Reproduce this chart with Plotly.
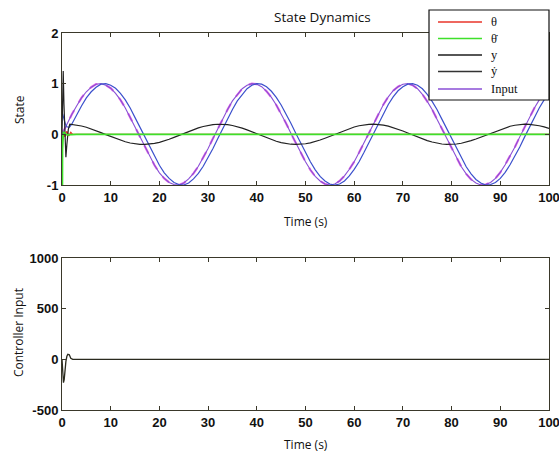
import plotly.graph_objects as go
from plotly.subplots import make_subplots

# ---------------- data ----------------
# 1-second grid for the reference input
t_input = list(range(0, 101))
u_input = [0.00, 0.20, 0.39, 0.56, 0.72, 0.84, 0.93, 0.99, 1.00, 0.97,
           0.91, 0.81, 0.68, 0.52, 0.33, 0.14, -0.06, -0.26, -0.44, -0.61,
           -0.76, -0.87, -0.95, -0.99, -1.00, -0.96, -0.88, -0.77, -0.63, -0.46,
           -0.28, -0.08, 0.12, 0.31, 0.49, 0.66, 0.79, 0.90, 0.97, 1.00,
           0.99, 0.94, 0.85, 0.73, 0.58, 0.41, 0.22, 0.02, -0.17, -0.37,
           -0.54, -0.70, -0.83, -0.92, -0.98, -1.00, -0.98, -0.92, -0.82, -0.69,
           -0.54, -0.36, -0.17, 0.03, 0.23, 0.42, 0.59, 0.74, 0.86, 0.94,
           0.99, 1.00, 0.97, 0.90, 0.79, 0.65, 0.49, 0.30, 0.11, -0.09,
           -0.29, -0.47, -0.64, -0.78, -0.89, -0.96, -1.00, -0.99, -0.95, -0.87,
           -0.75, -0.60, -0.43, -0.25, -0.05, 0.15, 0.34, 0.52, 0.68, 0.81,
           0.91]

# cart position y
t_y = [0, 0.2, 0.4, 0.7, 1.0, 1.5] + list(range(2, 101))
y_pos = [0.45, 0.38, 0.28, 0.20, 0.15, 0.14,
         0.20, 0.39, 0.56, 0.72, 0.84, 0.93, 0.99, 1.00, 0.97,
         0.91, 0.81, 0.68, 0.52, 0.33, 0.14, -0.06, -0.26, -0.44, -0.61,
         -0.76, -0.87, -0.95, -0.99, -1.00, -0.96, -0.88, -0.77, -0.63, -0.46,
         -0.28, -0.08, 0.12, 0.31, 0.49, 0.66, 0.79, 0.90, 0.97, 1.00,
         0.99, 0.94, 0.85, 0.73, 0.58, 0.41, 0.22, 0.02, -0.17, -0.37,
         -0.54, -0.70, -0.83, -0.92, -0.98, -1.00, -0.98, -0.92, -0.82, -0.69,
         -0.54, -0.36, -0.17, 0.03, 0.23, 0.42, 0.59, 0.74, 0.86, 0.94,
         0.99, 1.00, 0.97, 0.90, 0.79, 0.65, 0.49, 0.30, 0.11, -0.09,
         -0.29, -0.47, -0.64, -0.78, -0.89, -0.96, -1.00, -0.99, -0.95, -0.87,
         -0.75, -0.60, -0.43, -0.25, -0.05, 0.15, 0.34, 0.52, 0.68, 0.81]

# cart velocity y-dot
t_ydot = [0, 0.1, 0.25, 0.4, 0.6, 0.8, 1.0, 1.3, 1.6] + list(range(2, 101))
y_dot = [0.00, 0.60, 1.25, 0.60, -0.20, -0.45, -0.20, 0.10, 0.20,
         0.196, 0.184, 0.165, 0.139, 0.108, 0.072, 0.034, -0.006, -0.045,
         -0.083, -0.118, -0.147, -0.171, -0.188, -0.198, -0.200, -0.193, -0.179, -0.158,
         -0.131, -0.098, -0.061, -0.022, 0.017, 0.057, 0.094, 0.127, 0.155, 0.177,
         0.192, 0.199, 0.199, 0.190, 0.174, 0.151, 0.122, 0.088, 0.050, 0.011,
         -0.029, -0.068, -0.104, -0.136, -0.162, -0.182, -0.195, -0.200, -0.197, -0.186,
         -0.168, -0.143, -0.112, -0.077, -0.039, 0.001, 0.041, 0.079, 0.114, 0.144,
         0.169, 0.187, 0.197, 0.200, 0.195, 0.181, 0.161, 0.134, 0.102, 0.066,
         0.027, -0.013, -0.052, -0.089, -0.123, -0.152, -0.175, -0.191, -0.199, -0.199,
         -0.191, -0.176, -0.154, -0.125, -0.092, -0.055, -0.016, 0.024, 0.063, 0.099,
         0.132, 0.159, 0.180, 0.194, 0.200, 0.198, 0.188, 0.170, 0.146, 0.116]

# pendulum angle theta
t_theta = [0, 0.3, 0.6, 1.0, 1.4, 1.8, 2.2, 3.0, 100]
theta = [0.00, 0.08, -0.05, 0.06, -0.03, 0.04, 0.00, 0.00, 0.00]

# pendulum angular rate theta-dot
t_theta_dot = [0, 0.05, 0.12, 0.3, 1.0, 3.0, 100]
theta_dot = [0.00, -3.00, -0.30, 0.05, -0.01, 0.00, 0.00]

# controller effort
t_ctrl = [0, 0.15, 0.3, 0.45, 0.6, 0.8, 1.0, 1.2, 1.5, 1.8, 2.2, 3.0, 100]
u_ctrl = [0, -120, -230, -200, -100, -20, 30, 50, 45, 10, 0, 0, 0]

# axis tick labels
state_ticks = [-1, 0, 1, 2]
state_tick_text = ["-1", "0", "1", "2"]
ctrl_ticks = [-500, 0, 500, 1000]
ctrl_tick_text = ["-500", "0", "500", "1000"]

legend_names = ["\u03b8", "\u03b8\u0307", "y", "\u1e8f", "Input"]
legend_colors = ["#e8352a", "#3ee02a", "#1e1e1e", "#333333", "#8a4fd6"]

# ---------------- figure ----------------
fig = make_subplots(rows=2, cols=1, vertical_spacing=0.1936)

fig.add_trace(go.Scatter(x=t_theta, y=theta, mode="lines",
                         line=dict(color="#e8352a", width=1.2)), 1, 1)
fig.add_trace(go.Scatter(x=t_input, y=u_input, mode="lines",
                         line=dict(color="#e66ee6", width=2.2, dash="dash")), 1, 1)
fig.add_trace(go.Scatter(x=t_input, y=u_input, mode="lines",
                         line=dict(color="#8a4fd6", width=1.1)), 1, 1)
fig.add_trace(go.Scatter(x=t_y, y=y_pos, mode="lines",
                         line=dict(color="#3b50cc", width=1.2)), 1, 1)
fig.add_trace(go.Scatter(x=t_ydot, y=y_dot, mode="lines",
                         line=dict(color="#222222", width=1.2)), 1, 1)
fig.add_trace(go.Scatter(x=t_theta_dot, y=theta_dot, mode="lines",
                         line=dict(color="#3ee02a", width=1.6)), 1, 1)
fig.add_trace(go.Scatter(x=t_ctrl, y=u_ctrl, mode="lines",
                         line=dict(color="#2a2a1e", width=1.3)), 2, 1)

frame = "#3a382a"
tickfont = dict(family="Liberation Sans", size=13, color="#111111", weight="bold")
common_x = dict(range=[0, 100], dtick=10, tick0=0, ticks="inside", ticklen=4,
                tickcolor=frame, showline=True, linecolor=frame, linewidth=1,
                mirror="ticks", showgrid=False, zeroline=False, tickfont=tickfont,
                ticklabeloverflow="allow", automargin=False)
common_y = dict(ticks="inside", ticklen=4, tickcolor=frame, showline=True,
                linecolor=frame, linewidth=1, mirror="ticks", showgrid=False,
                zeroline=False, tickfont=tickfont, ticklabeloverflow="allow",
                automargin=False, tickmode="array")

fig.update_xaxes(**common_x, row=1, col=1)
fig.update_xaxes(**common_x, row=2, col=1)
fig.update_yaxes(range=[-1, 2], tickvals=state_ticks, ticktext=state_tick_text,
                 **common_y, row=1, col=1)
fig.update_yaxes(range=[-500, 1000], tickvals=ctrl_ticks, ticktext=ctrl_tick_text,
                 **common_y, row=2, col=1)

label_font = dict(family="Open Sans", size=12, color="#111111")


def note(text, x, y, font, angle=0, xanchor="center"):
    fig.add_annotation(text=text, x=x, y=y, xref="paper", yref="paper",
                       xanchor=xanchor, yanchor="middle", showarrow=False,
                       textangle=angle, font=font)


note("State Dynamics", 0.534, 1.0424, dict(family="Open Sans", size=13.5, color="#111111"))
note("Time (s)", 0.5, 0.4987, label_font)
note("Time (s)", 0.5, -0.0902, label_font)
note("State", -0.0862, 0.7958, label_font, angle=-90)
note("Controller Input", -0.0903, 0.204, label_font, angle=-90)

# legend box with line keys
fig.add_shape(type="rect", xref="paper", yref="paper", x0=0.7536, x1=1.0,
              y0=0.8223, y1=1.061, layer="above", fillcolor="white",
              line=dict(color="#111111", width=1.2))
key_rows = [1.0292, 0.9854, 0.9416, 0.8979, 0.8515]
legend_font = dict(family="Liberation Serif", size=12.5, color="#111111")
for name, color, ky in zip(legend_names, legend_colors, key_rows):
    fig.add_shape(type="line", xref="paper", yref="paper", x0=0.7721, x1=0.8624,
                  y0=ky, y1=ky, layer="above", line=dict(color=color, width=1.4))
    note(name, 0.8768, ky, legend_font, xanchor="left")

fig.update_layout(
    width=559, height=452,
    margin=dict(l=62, r=10, t=33, b=42, autoexpand=False),
    paper_bgcolor="white", plot_bgcolor="white",
    showlegend=False,
)

fig.write_html("out.html")
